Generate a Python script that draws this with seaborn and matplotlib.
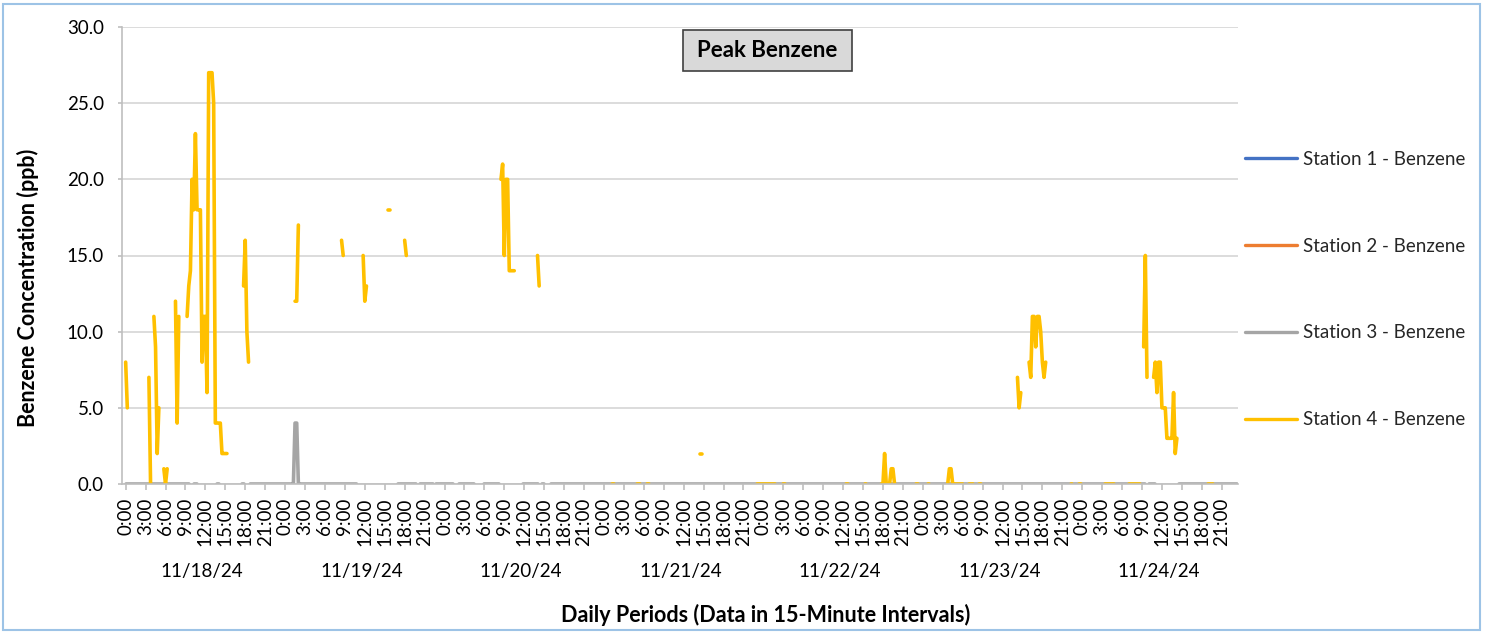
import numpy as np
import pandas as pd
import matplotlib
matplotlib.use("Agg")
import matplotlib.pyplot as plt
import seaborn as sns
from matplotlib.lines import Line2D
from matplotlib.patches import Rectangle

# ---------------- data ----------------
DATES = ["11/18/24", "11/19/24", "11/20/24", "11/21/24", "11/22/24", "11/23/24", "11/24/24"]
DAY_KEYS = ["11/18", "11/19", "11/20", "11/21", "11/22", "11/23", "11/24"]
TICK_TIMES = ["0:00", "3:00", "6:00", "9:00", "12:00", "15:00", "18:00", "21:00"]
SERIES = ["Station 1 - Benzene", "Station 2 - Benzene",
          "Station 3 - Benzene", "Station 4 - Benzene"]
COLORS = ["#4472C4", "#ED7D31", "#A5A5A5", "#FFC000"]
Y_TICKS = [0, 5, 10, 15, 20, 25, 30]
TITLE = "Peak Benzene"
Y_TITLE = "Benzene Concentration (ppb)"
X_TITLE = "Daily Periods (Data in 15-Minute Intervals)"

# Station 1 and Station 2: no readings shown in the chart
S1_RUNS = []
S2_RUNS = []

# Station 4: runs of consecutive 15-minute readings (start time, values in ppb)
S4_RUNS = [
    ("11/18 00:00", [8, 5]),
    ("11/18 03:30", [7, 0]),
    ("11/18 04:15", [11, 9, 2, 5]),
    ("11/18 05:45", [1, 0, 1]),
    ("11/18 07:30", [12, 4, 11]),
    ("11/18 09:15", [11, 13, 14, 20, 18, 23, 18, 18, 18, 8, 11, 11, 6,
                     27, 27, 27, 25, 4, 4, 4, 4, 2, 2, 2, 2]),
    ("11/18 17:45", [13, 16, 10, 8]),
    ("11/19 01:30", [12, 12, 17]),
    ("11/19 08:30", [16, 15]),
    ("11/19 11:45", [15, 12, 13]),
    ("11/19 15:30", [18, 18]),
    ("11/19 18:00", [16, 15]),
    ("11/20 08:30", [20, 21, 15, 20, 20, 14, 14, 14, 14]),
    ("11/20 14:00", [15, 13]),
    ("11/21 01:15", [0, 0]),
    ("11/21 05:00", [0, 0, 0]),
    ("11/21 06:30", [0, 0]),
    ("11/21 14:30", [2, 2]),
    ("11/21 23:00", [0, 0, 0, 0, 0, 0, 0, 0, 0, 0, 0, 0]),
    ("11/22 03:00", [0, 0]),
    ("11/22 12:30", [0, 0]),
    ("11/22 15:15", [0, 0]),
    ("11/22 17:45", [0, 0, 2, 0, 0, 0, 1, 1, 0]),
    ("11/22 23:00", [0, 0]),
    ("11/23 00:45", [0, 0]),
    ("11/23 03:45", [0, 1, 1, 0, 0, 0, 0, 0, 0, 0]),
    ("11/23 07:00", [0, 0, 0]),
    ("11/23 08:30", [0, 0]),
    ("11/23 14:15", [7, 5, 6]),
    ("11/23 16:00", [8, 7, 11, 11, 9, 11, 11, 10, 8, 7, 8]),
    ("11/23 22:15", [0, 0]),
    ("11/23 23:30", [0, 0]),
    ("11/24 03:30", [0, 0, 0, 0, 0, 0]),
    ("11/24 07:00", [0, 0, 0, 0, 0, 0, 0, 0]),
    ("11/24 09:15", [9, 15, 7]),
    ("11/24 10:45", [7, 8, 6, 8, 8, 5, 5, 5, 3, 3, 3, 3, 6, 2, 3]),
    ("11/24 19:00", [0, 0, 0, 0]),
]

# Station 3: periods with 0.0 ppb readings (start, end inclusive), plus non-zero readings
S3_ZERO_PERIODS = [
    ("11/18 00:00", "11/18 09:30"),
    ("11/18 10:15", "11/18 10:45"),
    ("11/18 13:45", "11/18 14:00"),
    ("11/18 17:30", "11/18 17:45"),
    ("11/18 18:45", "11/19 10:45"),
    ("11/19 17:00", "11/19 19:45"),
    ("11/19 20:15", "11/19 22:15"),
    ("11/19 22:45", "11/20 01:15"),
    ("11/20 02:15", "11/20 04:30"),
    ("11/20 06:00", "11/20 08:15"),
    ("11/20 11:45", "11/20 14:00"),
    ("11/20 14:45", "11/20 15:00"),
    ("11/20 16:00", "11/24 09:30"),
    ("11/24 10:00", "11/24 11:00"),
    ("11/24 14:30", "11/24 23:15"),
]
S3_READINGS = [("11/19 01:30", 4), ("11/19 01:45", 4)]

PER_DAY = 96


def to_idx(stamp):
    d, t = stamp.split()
    h, m = map(int, t.split(":"))
    return DAY_KEYS.index(d) * PER_DAY + h * 4 + m // 15


# ---------------- build long table ----------------
rows = []
seg = 0
for name, runs in [(SERIES[0], S1_RUNS), (SERIES[1], S2_RUNS)]:
    for start, vals in runs:
        i0 = to_idx(start)
        for k, v in enumerate(vals):
            rows.append((i0 + k, v, name, seg))
        seg += 1

s3_override = {to_idx(t): v for t, v in S3_READINGS}
for a, b in S3_ZERO_PERIODS:
    for i in range(to_idx(a), to_idx(b) + 1):
        rows.append((i, s3_override.get(i, 0), SERIES[2], seg))
    seg += 1

for start, vals in S4_RUNS:
    i0 = to_idx(start)
    for k, v in enumerate(vals):
        rows.append((i0 + k, v, SERIES[3], seg))
    seg += 1

df = pd.DataFrame(rows, columns=["idx", "value", "series", "seg"])

# ---------------- plot ----------------
sns.set_theme(style="white")
plt.rcParams["font.family"] = ["Lato", "DejaVu Sans"]

W, H = 1486, 634
fig = plt.figure(figsize=(W / 100, H / 100), dpi=100)
ax = fig.add_axes([122 / W, 1 - 484 / H, (1238 - 122) / W, (484 - 27) / H])

present = [s for s in SERIES if s in set(df["series"])]
palette = dict(zip(SERIES, COLORS))
sns.lineplot(data=df, x="idx", y="value", hue="series", units="seg",
             estimator=None, sort=False, hue_order=present, palette=palette,
             linewidth=2.6, legend=False, ax=ax,
             solid_capstyle="round", solid_joinstyle="round")

n_total = PER_DAY * len(DATES)
ax.set_xlim(-2.2, n_total - 2.2)
ax.set_ylim(0, 30)
ax.set_yticks(Y_TICKS)
ax.set_yticklabels([f"{v:.1f}" for v in Y_TICKS])
ax.set_xticks(list(range(0, n_total, 12)))
ax.set_xticklabels(TICK_TIMES * len(DATES), rotation=90)

ax.yaxis.grid(True, color="#D9D9D9", linewidth=1.3)
ax.xaxis.grid(False)
ax.set_axisbelow(True)
for side in ["top", "right"]:
    ax.spines[side].set_visible(False)
for side in ["left", "bottom"]:
    ax.spines[side].set_color("#BFBFBF")
    ax.spines[side].set_linewidth(1.2)

ax.tick_params(axis="x", length=4.5, width=1.2, color="#BFBFBF", pad=5,
               labelsize=13.5, labelcolor="#000000", bottom=True)
ax.tick_params(axis="y", length=3, width=1.2, color="#BFBFBF", pad=10,
               labelsize=13.5, labelcolor="#000000", left=True)

ax.set_xlabel(X_TITLE, fontsize=15.5, fontweight="bold", color="#000000")
ax.xaxis.set_label_coords((766 - 122) / 1116, (484 - 604) / 457)
ax.set_ylabel(Y_TITLE, fontsize=15.5, fontweight="bold", color="#000000")
ax.yaxis.set_label_coords((39 - 122) / 1116, (484 - 288) / 457)

for d, lab in enumerate(DATES):
    ax.text(d * PER_DAY + 46, (484 - 572) / 457, lab, transform=ax.get_xaxis_transform(),
            ha="center", va="center", fontsize=13.5, color="#000000")

fig.patches.append(Rectangle((683 / W, 1 - 71 / H), 169 / W, 41 / H, transform=fig.transFigure,
                             fc="#D9D9D9", ec="#404040", lw=1.2))
fig.text(767.5 / W, 1 - 50.5 / H, TITLE, ha="center", va="center", fontsize=16,
         fontweight="bold", color="#000000")

handles = [Line2D([0], [0], color=c, lw=2.4) for c in COLORS]
fig.legend(handles, SERIES, loc="center left", bbox_to_anchor=(1245 / W, 1 - 289.5 / H),
           frameon=False, fontsize=13.5, handlelength=2.77, handletextpad=0.3,
           labelspacing=3.72, borderpad=0, borderaxespad=0)

fig.patches.append(Rectangle((3 / W, 4 / H), 1477 / W, 626 / H, transform=fig.transFigure,
                             fill=False, ec="#9DC3E6", lw=1.5))

fig.savefig("out.png", dpi=100)
